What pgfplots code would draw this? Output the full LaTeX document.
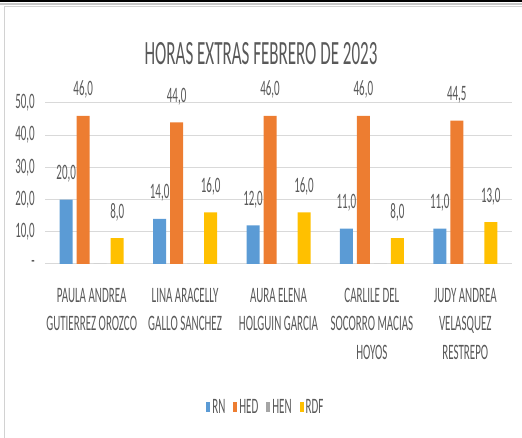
\documentclass[border=0pt]{standalone}
\usepackage{fontspec}
\setmainfont{Carlito}[FakeStretch=0.5]
\usepackage{pgfplots}
\pgfplotsset{compat=1.18}
\definecolor{txt}{HTML}{595959}
\definecolor{cRN}{HTML}{5B9BD5}
\definecolor{cHED}{HTML}{ED7D31}
\definecolor{cHEN}{HTML}{A5A5A5}
\definecolor{cRDF}{HTML}{FFC000}
\definecolor{cgrid}{HTML}{D9D9D9}
\begin{document}
\begin{tikzpicture}
\path[use as bounding box] (0pt,0pt) rectangle (522pt,438pt);
\draw[black,line width=1.5pt] (0pt,437.2pt) -- (522pt,437.2pt);
\draw[gray!45,line width=2pt] (0pt,433.6pt) -- (522pt,433.6pt);
\draw[gray!35,line width=1pt] (4pt,0pt) -- (4pt,431pt) -- (522pt,431pt);
\node[txt,font=\fontsize{34}{40}\selectfont] at (261pt,384pt) {HORAS EXTRAS FEBRERO DE 2023};
\begin{axis}[
  at={(45pt,174pt)}, anchor=south west,
  scale only axis, width=467pt, height=161pt,
  /pgf/number format/assume math mode=true,
  ybar=4pt, bar width=13pt,
  xmin=-0.5, xmax=4.5, ymin=0, ymax=50,
  clip=false,
  axis lines=none,
  nodes near coords style={txt, font=\fontsize{22}{26}\selectfont, anchor=base, inner sep=0pt, yshift=20pt},
  legend columns=4,
  legend style={at={(0.473,-0.888)}, anchor=center, draw=none, fill=none, font=\fontsize{22}{26}\selectfont, text=txt, /tikz/every even column/.append style={column sep=6pt}},
  legend image code/.code={\fill[#1] (0pt,-5pt) rectangle (4pt,5pt);},
]
\draw[cgrid, line width=1pt] (axis cs:-0.5,0) -- (axis cs:4.5,0);
\draw[cgrid, line width=1pt] (axis cs:-0.5,10) -- (axis cs:4.5,10);
\draw[cgrid, line width=1pt] (axis cs:-0.5,20) -- (axis cs:4.5,20);
\draw[cgrid, line width=1pt] (axis cs:-0.5,30) -- (axis cs:4.5,30);
\draw[cgrid, line width=1pt] (axis cs:-0.5,40) -- (axis cs:4.5,40);
\draw[cgrid, line width=1pt] (axis cs:-0.5,50) -- (axis cs:4.5,50);
\begin{scope}[every node/.style={txt, font=\fontsize{22}{26}\selectfont, anchor=east, inner sep=0pt, xshift=-10pt}]
\node at (axis cs:-0.5,0) {-};
\node at (axis cs:-0.5,10) {10,0};
\node at (axis cs:-0.5,20) {20,0};
\node at (axis cs:-0.5,30) {30,0};
\node at (axis cs:-0.5,40) {40,0};
\node at (axis cs:-0.5,50) {50,0};
\end{scope}
\begin{scope}[every node/.style={txt, font=\fontsize{22}{28.5}\selectfont, align=center, anchor=north, inner sep=0pt, yshift=-24pt}]
\node at (axis cs:0,0) {PAULA ANDREA\\GUTIERREZ OROZCO};
\node at (axis cs:1,0) {LINA ARACELLY\\GALLO SANCHEZ};
\node at (axis cs:2,0) {AURA ELENA\\HOLGUIN GARCIA};
\node at (axis cs:3,0) {CARLILE DEL\\SOCORRO MACIAS\\HOYOS};
\node at (axis cs:4,0) {JUDY ANDREA\\VELASQUEZ\\RESTREPO};
\end{scope}
\addplot[fill=cRN, draw=none, nodes near coords={\pgfmathprintnumber[fixed,fixed zerofill,precision=1,use comma]{\pgfplotspointmeta}}] coordinates {(0,20) (1,14) (2,12) (3,11) (4,11)};
\addplot[fill=cHED, draw=none, nodes near coords={\pgfmathprintnumber[fixed,fixed zerofill,precision=1,use comma]{\pgfplotspointmeta}}] coordinates {(0,46) (1,44) (2,46) (3,46) (4,44.5)};
\addplot[fill=cHEN, draw=none] coordinates {(0,0) (1,0) (2,0) (3,0) (4,0)};
\addplot[fill=cRDF, draw=none, nodes near coords={\pgfmathprintnumber[fixed,fixed zerofill,precision=1,use comma]{\pgfplotspointmeta}}] coordinates {(0,8) (1,16) (2,16) (3,8) (4,13)};
\legend{RN,HED,HEN,RDF}
\end{axis}
\end{tikzpicture}
\end{document}
